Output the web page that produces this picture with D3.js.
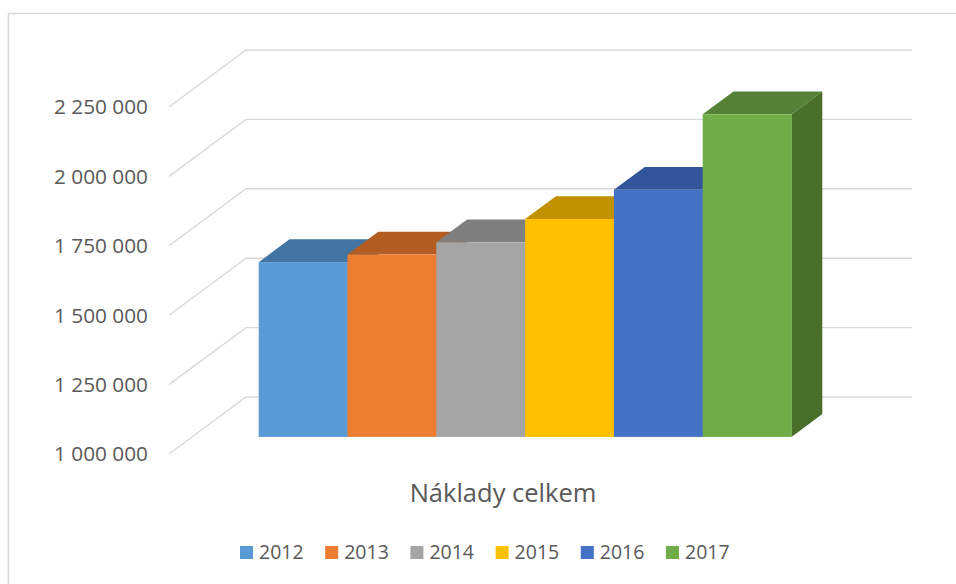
<!DOCTYPE html>
<html>
<head>
<meta charset="utf-8">
<script src="https://cdn.jsdelivr.net/npm/d3@7"></script>
<style>
  body { margin: 0; background: #fff; }
  svg { display: block; font-family: "Open Sans", "Noto Sans", sans-serif; }
</style>
</head>
<body>
<div id="chart"></div>
<script>
// data
var years = ["2012", "2013", "2014", "2015", "2016", "2017"];
var costs = [1629500, 1657000, 1701000, 1785000, 1890000, 2162000];
var tickValues = [1000000, 1250000, 1500000, 1750000, 2000000, 2250000];
var chartTitle = "Náklady celkem";

// styles
var frontColors = ["#5B9BD5", "#ED7D31", "#A5A5A5", "#FFC000", "#4472C4", "#70AD47"];
var topColors   = ["#4275A2", "#B45D22", "#7F7F7F", "#C29100", "#32559A", "#558236"];
var sideColors  = ["#3A6690", "#9E511D", "#6F6F6F", "#A98000", "#2C4B87", "#4A6E2C"];

var W = 956, H = 584;
// oblique depth of the floor (front -> back wall)
var depthX = 77, depthY = -57;
var barT0 = 0.3, barT1 = 0.7; // bars sit in the middle of the depth

var svg = d3.select("#chart").append("svg")
    .attr("width", W).attr("height", H);

// outer chart border
svg.append("rect")
    .attr("x", 8.5).attr("y", 13.5)
    .attr("width", 980).attr("height", 620)
    .attr("fill", "none").attr("stroke", "#D9D9D9").attr("stroke-width", 1.5);

var y = d3.scaleLinear().domain([1000000, 2250000]).range([454, 107]);
var frontLeft = 169, frontRight = 835;

var x = d3.scaleBand().domain(years)
    .range([frontLeft + depthX * barT0, frontRight + depthX * barT0])
    .paddingInner(0).paddingOuter(0.75);

// gridlines: side wall diagonal + back wall horizontal
var grid = svg.append("g").attr("stroke", "#D9D9D9").attr("stroke-width", 1.4).attr("fill", "none");
grid.selectAll("path").data(tickValues).enter().append("path")
    .attr("d", function(v) {
      var y0 = y(v);
      return "M" + frontLeft + "," + y0 +
             "L" + (frontLeft + depthX) + "," + (y0 + depthY) +
             "L912," + (y0 + depthY);
    });

// axis labels
var fmt = function(v) { return d3.format(",")(v).replace(/,/g, " "); };
svg.append("g").selectAll("text").data(tickValues).enter().append("text")
    .attr("x", 148).attr("y", function(v) { return y(v); })
    .attr("dy", "0.36em")
    .attr("text-anchor", "end")
    .attr("fill", "#595959")
    .attr("font-size", "20.8px")
    .text(fmt);

// bars (left to right so later ones cover hidden sides)
var ox0 = 0, oy0 = 0; // bar front plane already shifted in x via scale
var dX = depthX * (barT1 - barT0), dY = depthY * (barT1 - barT0);
var yShift = depthY * barT0;
var bars = svg.append("g");
years.forEach(function(yr, i) {
  var xl = x(yr), xr = xl + x.bandwidth();
  var yt = y(costs[i]) + yShift, yb = y(1000000) + yShift;
  var g = bars.append("g");
  g.append("path")
      .attr("d", "M" + xr + "," + yt + "L" + (xr + dX) + "," + (yt + dY) +
                 "L" + (xr + dX) + "," + (yb + dY) + "L" + xr + "," + yb + "Z")
      .attr("fill", sideColors[i]);
  g.append("path")
      .attr("d", "M" + xl + "," + yt + "L" + (xl + dX) + "," + (yt + dY) +
                 "L" + (xr + dX) + "," + (yt + dY) + "L" + xr + "," + yt + "Z")
      .attr("fill", topColors[i]);
  g.append("rect")
      .attr("x", xl).attr("y", yt)
      .attr("width", x.bandwidth() + 0.3).attr("height", yb - yt)
      .attr("fill", frontColors[i]);
});

// category title under the bars
svg.append("text")
    .attr("x", 503).attr("y", 501.5)
    .attr("text-anchor", "middle")
    .attr("fill", "#595959")
    .attr("font-size", "25.5px")
    .text(chartTitle);

// legend
var legend = svg.append("g").selectAll("g").data(years).enter().append("g")
    .attr("transform", function(d, i) { return "translate(" + (240 + i * 85.2) + ",546)"; });
legend.append("rect")
    .attr("width", 13).attr("height", 13)
    .attr("fill", function(d, i) { return frontColors[i]; });
legend.append("text")
    .attr("x", 19).attr("y", 13.3)
    .attr("fill", "#595959")
    .attr("font-size", "19.5px")
    .text(function(d) { return d; });
</script>
</body>
</html>
